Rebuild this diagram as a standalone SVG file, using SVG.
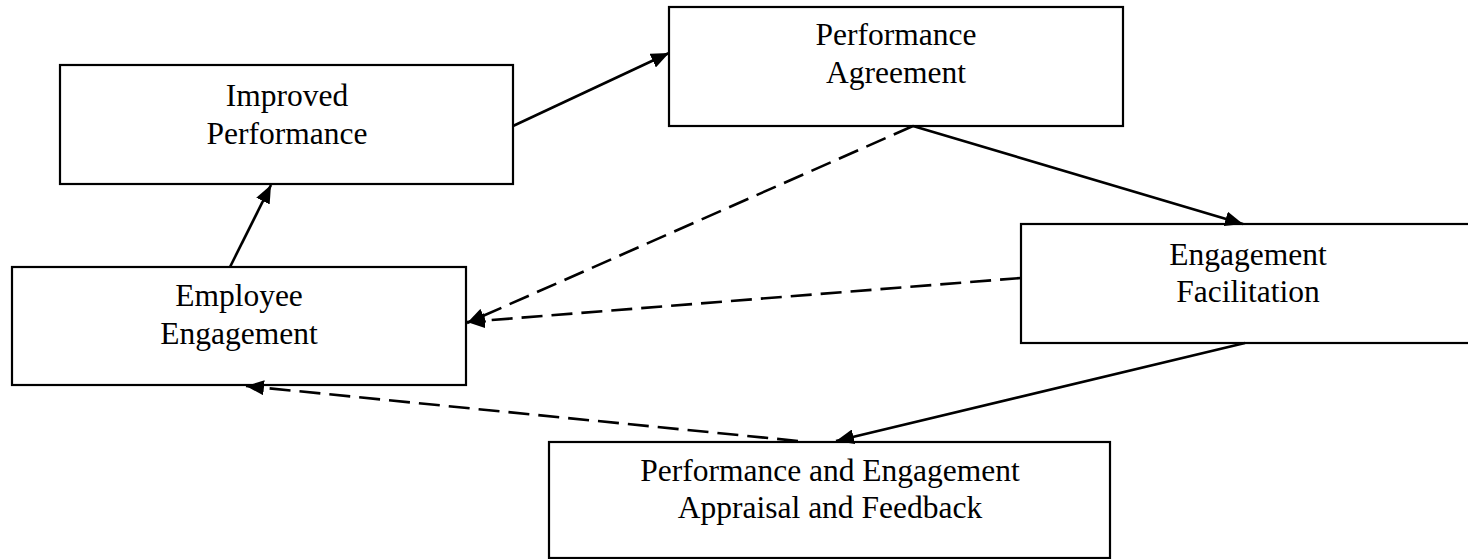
<svg xmlns="http://www.w3.org/2000/svg" width="1468" height="559" viewBox="0 0 1468 559">
<style>
.box{fill:#fff;stroke:#000;stroke-width:2.2}
.lbl{font-family:"Liberation Serif","Times New Roman",serif;font-size:31.5px;fill:#000;text-anchor:middle}
.c{fill:none;stroke:#000;stroke-width:2.6}
.d{stroke-dasharray:21 9}
</style>
<defs>
<marker id="ah" markerUnits="userSpaceOnUse" markerWidth="19" markerHeight="15" refX="18" refY="7.5" orient="auto">
<path d="M0,0 L18,7.5 L0,15 z" fill="#000"/>
</marker>
</defs>
<rect width="1468" height="559" fill="#fff"/>
<g id="improved-performance">
<rect class="box" x="60" y="65" width="453" height="119"/>
<text class="lbl" x="287" y="106">Improved</text>
<text class="lbl" x="287" y="144">Performance</text>
</g>
<g id="performance-agreement">
<rect class="box" x="669" y="7" width="454" height="119"/>
<text class="lbl" x="896" y="45">Performance</text>
<text class="lbl" x="896" y="83">Agreement</text>
</g>
<g id="engagement-facilitation">
<rect class="box" x="1021" y="224" width="455" height="119"/>
<text class="lbl" x="1248" y="265">Engagement</text>
<text class="lbl" x="1248" y="302">Facilitation</text>
</g>
<g id="employee-engagement">
<rect class="box" x="12" y="267" width="454" height="118"/>
<text class="lbl" x="239" y="306">Employee</text>
<text class="lbl" x="239" y="344">Engagement</text>
</g>
<g id="appraisal-feedback">
<rect class="box" x="549" y="442" width="561" height="116"/>
<text class="lbl" x="830" y="481">Performance and Engagement</text>
<text class="lbl" x="830" y="518">Appraisal and Feedback</text>
</g>
<g id="connectors">
<line class="c" x1="513" y1="126" x2="669" y2="53" marker-end="url(#ah)"/>
<line class="c" x1="230" y1="267" x2="271" y2="185" marker-end="url(#ah)"/>
<line class="c" x1="913" y1="126" x2="1243" y2="224" marker-end="url(#ah)"/>
<line class="c" x1="1245" y1="343" x2="836" y2="441" marker-end="url(#ah)"/>
<line class="c d" x1="913" y1="126" x2="467" y2="323" marker-end="url(#ah)"/>
<line class="c d" x1="1021" y1="278" x2="467" y2="322" marker-end="url(#ah)"/>
<line class="c d" x1="798" y1="441" x2="246" y2="386" marker-end="url(#ah)"/>
</g>
</svg>
